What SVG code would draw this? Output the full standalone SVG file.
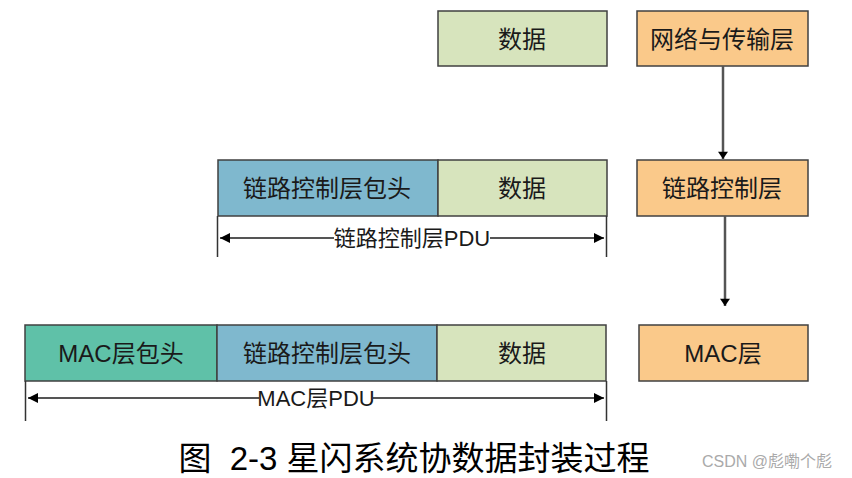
<svg xmlns="http://www.w3.org/2000/svg" width="852" height="478" viewBox="0 0 852 478">
<defs>
<marker id="ah" viewBox="0 0 10 10" refX="10" refY="5" markerWidth="10" markerHeight="10" markerUnits="userSpaceOnUse" orient="auto-start-reverse"><path d="M0,0 L10,5 L0,10 z" fill="#000"/></marker>
<marker id="ahv" viewBox="0 0 10 14" refX="10" refY="7" markerWidth="14" markerHeight="10" markerUnits="userSpaceOnUse" orient="auto"><path d="M0,0 L10,7 L0,14 z" fill="#000"/></marker>
</defs>
<style>
rect{stroke:#404040;stroke-width:1.5}
.d{fill:#D7E4BD}.o{fill:#FAC98A}.b{fill:#7FB8CE}.g{fill:#5FC1A8}
text{font-family:"Liberation Sans","Noto Sans CJK SC",sans-serif;font-size:24px;fill:#1a1a1a;text-anchor:middle;dominant-baseline:central}
.dim{font-size:22px}
.tick{stroke:#333;stroke-width:1.5;fill:none}
.dl{stroke:#555;stroke-width:2;fill:none}
.conn{stroke:#555;stroke-width:2.5;fill:none}
</style>
<g id="row1-data"><rect class="d" x="438" y="11" width="169" height="55"/><text x="522" y="39">数据</text></g>
<g id="net-layer"><rect class="o" x="637" y="11" width="171" height="55"/><text x="722" y="39">网络与传输层</text></g>
<g id="row2-llc-hdr"><rect class="b" x="218" y="160" width="220" height="56"/><text x="327" y="188">链路控制层包头</text></g>
<g id="row2-data"><rect class="d" x="438" y="160" width="169" height="56"/><text x="522" y="188">数据</text></g>
<g id="llc-layer"><rect class="o" x="637" y="160" width="171" height="56"/><text x="722" y="188">链路控制层</text></g>
<g id="row3-mac-hdr"><rect class="g" x="25" y="325" width="192" height="56"/><text x="121" y="353">MAC层包头</text></g>
<g id="row3-llc-hdr"><rect class="b" x="217" y="325" width="220" height="56"/><text x="327" y="353">链路控制层包头</text></g>
<g id="row3-data"><rect class="d" x="437" y="325" width="169" height="56"/><text x="522" y="353">数据</text></g>
<g id="mac-layer"><rect class="o" x="639" y="325" width="169" height="56"/><text x="723" y="353">MAC层</text></g>
<g id="llc-pdu">
<path class="tick" d="M217.5,216 V257 M606.5,216 V257"/>
<path class="dl" d="M220,238 H334" marker-start="url(#ah)"/>
<path class="dl" d="M490,238 H604" marker-end="url(#ah)"/>
<text class="dim" x="412" y="238">链路控制层PDU</text>
</g>
<g id="mac-pdu">
<path class="tick" d="M25.5,381 V421 M606.5,381 V421"/>
<path class="dl" d="M28,398 H259" marker-start="url(#ah)"/>
<path class="dl" d="M373,398 H604" marker-end="url(#ah)"/>
<text class="dim" x="316" y="398">MAC层PDU</text>
</g>
<g id="connectors">
<path class="conn" d="M723,66 V159" marker-end="url(#ahv)"/>
<path class="conn" d="M725,216 V306" marker-end="url(#ahv)"/>
</g>
<g id="caption">
<text x="414" y="458" style="font-size:33px;fill:#000;white-space:pre">图  2-3 星闪系统协数据封装过程</text>
<text x="767" y="461" style="font-size:16px;fill:#aaa">CSDN @彪嘞个彪</text>
</g>
</svg>
